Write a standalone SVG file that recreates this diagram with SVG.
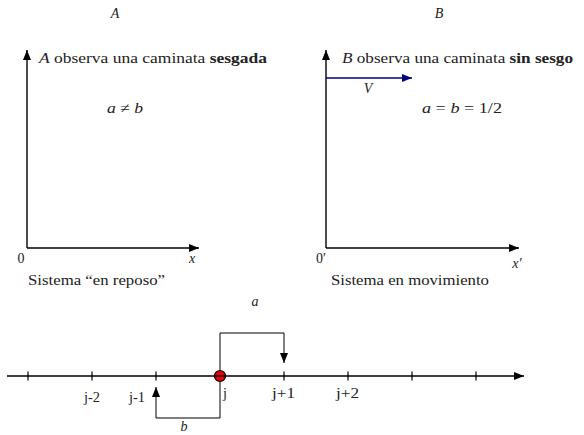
<svg xmlns="http://www.w3.org/2000/svg" width="584" height="435" viewBox="0 0 584 435">
<defs>
<marker id="ah" viewBox="0 0 10 8" refX="10" refY="4" markerWidth="10" markerHeight="8" markerUnits="userSpaceOnUse" orient="auto"><path d="M0,0 L10,4 L0,8 z" fill="#000"/></marker>
<marker id="ahb" viewBox="0 0 10 8" refX="10" refY="4" markerWidth="10" markerHeight="8" markerUnits="userSpaceOnUse" orient="auto"><path d="M0,0 L10,4 L0,8 z" fill="#00007f"/></marker>
</defs>
<style>
text{font-family:"Liberation Serif","Times New Roman",serif;font-size:14px;fill:#222}
.i{font-style:italic}
.b{font-weight:bold}
.ax{stroke:#000;stroke-width:1.4;fill:none}
.ln{stroke:#000;stroke-width:1;fill:none}
.tk{stroke:#000;stroke-width:1.2}
</style>
<rect width="584" height="435" fill="#fff"/>
<g id="frameA">
<text x="115" y="18" class="i" text-anchor="middle">A</text>
<text x="39" y="63" textLength="228" lengthAdjust="spacingAndGlyphs"><tspan class="i">A</tspan> observa una caminata <tspan class="b">sesgada</tspan></text>
<text x="107" y="113" textLength="36" lengthAdjust="spacingAndGlyphs"><tspan class="i">a</tspan> ≠ <tspan class="i">b</tspan></text>
<text x="21" y="263" text-anchor="middle">0</text>
<text x="192" y="263" class="i" text-anchor="middle">x</text>
<text x="28" y="285" textLength="137" lengthAdjust="spacingAndGlyphs">Sistema “en reposo”</text>
</g>
<g id="frameB">
<text x="439" y="18" class="i" text-anchor="middle">B</text>
<text x="342" y="63" textLength="231" lengthAdjust="spacingAndGlyphs"><tspan class="i">B</tspan> observa una caminata <tspan class="b">sin sesgo</tspan></text>
<text x="368" y="93" class="i" text-anchor="middle">V</text>
<text x="422" y="113" textLength="80" lengthAdjust="spacingAndGlyphs"><tspan class="i">a</tspan> = <tspan class="i">b</tspan> = 1/2</text>
<text x="321" y="263" text-anchor="middle">0′</text>
<text x="517" y="268" class="i" text-anchor="middle">x′</text>
<text x="331" y="285" textLength="158" lengthAdjust="spacingAndGlyphs">Sistema en movimiento</text>
</g>
<g id="lattice">
<circle id="walker" cx="220" cy="376" r="5.5" fill="#e00" stroke="#000" stroke-width="1.2"/>
<text x="84" y="402" textLength="16" lengthAdjust="spacingAndGlyphs">j-2</text>
<text x="129" y="402" textLength="16" lengthAdjust="spacingAndGlyphs">j-1</text>
<text x="225" y="398" text-anchor="middle">j</text>
<text x="272" y="398" textLength="23" lengthAdjust="spacingAndGlyphs">j+1</text>
<text x="336" y="398" textLength="23" lengthAdjust="spacingAndGlyphs">j+2</text>
<text x="255" y="306" class="i" text-anchor="middle">a</text>
<text x="184" y="431" class="i" text-anchor="middle">b</text>
</g>
<g id="connectors">
<path class="ax" d="M27,248 V50" marker-end="url(#ah)"/>
<path class="ax" d="M27,248 H199" marker-end="url(#ah)"/>
<path class="ax" d="M326,248 V50" marker-end="url(#ah)"/>
<path class="ax" d="M326,248 H519" marker-end="url(#ah)"/>
<path d="M326,78 H412" stroke="#00007f" stroke-width="1.6" fill="none" marker-end="url(#ahb)"/>
<path class="ax" d="M7,376 H524" marker-end="url(#ah)"/>
<path class="tk" d="M28,371.5 V380.5 M92,371.5 V380.5 M156,371.5 V380.5 M284,371.5 V380.5 M348,371.5 V380.5 M412,371.5 V380.5 M476,371.5 V380.5"/>
<path class="ln" d="M220,370 V333 H284 V363" marker-end="url(#ah)"/>
<path class="ln" d="M220,382 V418 H156 V387" marker-end="url(#ah)"/>
</g>
</svg>
